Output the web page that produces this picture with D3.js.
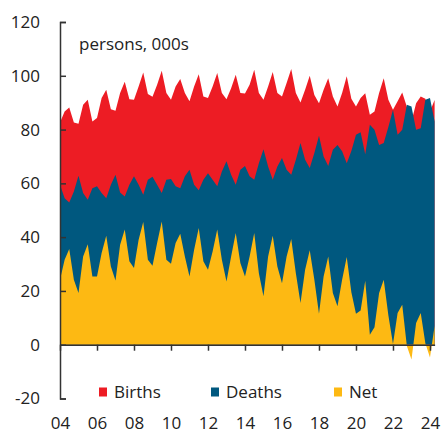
<!DOCTYPE html>
<html>
<head>
<meta charset="utf-8">
<script src="https://cdn.jsdelivr.net/npm/d3@7"></script>
<style>
  html, body { margin: 0; padding: 0; background: #fff; }
  svg { display: block; }
  text { font-family: "Open Sans", "Noto Sans", sans-serif; fill: #222; }
</style>
</head>
<body>
<svg id="chart" width="441" height="439"></svg>
<script>
// Quarterly, 2004Q1 .. 2024Q2 (thousands of persons)
const startYear = 2004;
const births = [
  82.6, 86.7, 88.2, 82.6, 82.2, 89.2, 91.1, 83.0, 84.3, 91.7,
  94.8, 87.6, 87.0, 93.6, 97.8, 91.3, 91.1, 96.0, 101.2, 93.2,
  92.2, 96.7, 101.9, 93.6, 91.1, 96.0, 98.8, 93.6, 90.5, 96.0,
  100.6, 92.3, 91.7, 96.0, 101.0, 93.6, 91.3, 95.4, 100.4, 93.6,
  93.4, 96.7, 102.2, 93.6, 91.1, 96.0, 101.4, 93.6, 92.3, 97.3,
  102.5, 93.6, 90.1, 94.8, 100.0, 92.9, 89.8, 94.8, 99.1, 92.3,
  88.6, 93.6, 99.8, 91.5, 88.6, 91.7, 93.5, 85.5, 86.7, 93.6,
  99.1, 91.1, 87.4, 90.5, 93.8, 88.5, 83.0, 89.8, 92.3, 91.5,
  86.7, 91.0
];
const deaths = [
  59.5, 54.5, 52.9, 57.0, 62.8, 56.4, 53.9, 58.2, 58.9, 56.4,
  54.5, 59.5, 63.2, 56.6, 55.1, 59.5, 62.6, 59.5, 55.8, 61.3,
  62.5, 59.5, 56.4, 61.3, 61.6, 58.9, 58.2, 62.6, 65.1, 59.5,
  57.4, 61.3, 63.8, 61.3, 58.9, 64.4, 68.2, 63.2, 59.5, 65.1,
  66.5, 62.6, 61.3, 67.5, 72.7, 66.3, 61.3, 66.3, 69.4, 65.1,
  63.2, 68.8, 75.0, 68.8, 65.7, 71.3, 77.7, 70.0, 66.5, 72.5,
  74.3, 71.9, 67.5, 72.0, 78.1, 79.0, 70.8, 81.8, 79.9, 74.3,
  75.0, 81.0, 87.4, 78.1, 79.9, 89.2, 88.6, 79.9, 80.5, 91.1,
  91.7, 83.0
];
const net = [
  24.2, 31.6, 35.6, 24.2, 19.2, 32.8, 37.4, 25.4, 25.4, 34.1,
  40.5, 29.1, 23.9, 37.2, 42.8, 31.0, 28.5, 39.0, 45.6, 31.6,
  29.4, 37.8, 45.8, 31.6, 30.1, 37.8, 41.3, 32.8, 25.4, 35.3,
  43.4, 31.0, 27.9, 34.7, 42.8, 31.6, 23.5, 32.8, 41.5, 30.4,
  25.4, 32.8, 41.5, 26.6, 18.0, 32.8, 40.5, 29.1, 22.9, 32.8,
  39.3, 26.6, 15.5, 27.9, 35.1, 24.2, 11.5, 25.4, 32.8, 19.2,
  14.3, 24.2, 32.6, 19.5, 11.5, 12.7, 23.8, 3.7, 6.5, 19.2,
  24.2, 11.0, 0.3, 11.8, 14.9, -0.5, -5.5, 8.1, 11.8, 0.5,
  -4.8, 7.0
];
const xTicks = [2004, 2006, 2008, 2010, 2012, 2014, 2016, 2018, 2020, 2022, 2024];
const yTicks = [-20, 0, 20, 40, 60, 80, 100, 120];
const seriesNames = ["Births", "Deaths", "Net"];
const seriesColors = ["#ED1C24", "#00587F", "#FDB913"];
const unitLabel = "persons, 000s";

const svg = d3.select("#chart");
const x = d3.scaleLinear().domain([2004, 2024.25]).range([60, 434.6]);
const y = d3.scaleLinear().domain([-20, 120]).range([398.5, 22]);

const series = [births, deaths, net];
series.forEach((vals, si) => {
  const pts = vals.map((v, i) => ({ t: startYear + i / 4, v }));
  const area = d3.area()
    .x(d => x(d.t))
    .y0(y(0))
    .y1(d => y(d.v))
    .curve(d3.curveLinear);
  svg.append("path")
    .datum(pts)
    .attr("d", area)
    .attr("fill", seriesColors[si]);
});

// Y axis (inward ticks, labels left)
const yAxis = svg.append("g")
  .attr("transform", "translate(60,0)")
  .call(d3.axisLeft(y).tickValues(yTicks).tickSize(-6).tickPadding(20).tickFormat(d => String(d)));
yAxis.selectAll("path, line").attr("stroke", "#333").attr("stroke-width", 1.5);
yAxis.selectAll("text").style("font-size", "17px").attr("fill", "#222")
  .style("font-family", "'Open Sans', 'Noto Sans', sans-serif");

// X axis along zero
const xAxis = svg.append("g")
  .attr("transform", `translate(0,${y(0)})`)
  .call(d3.axisBottom(x).tickValues(xTicks).tickSize(6).tickSizeOuter(0).tickPadding(66)
    .tickFormat(d => String(d).slice(2)));
xAxis.selectAll("path, line").attr("stroke", "#333").attr("stroke-width", 1.5);
xAxis.selectAll("text").style("font-size", "17px").attr("fill", "#222")
  .style("font-family", "'Open Sans', 'Noto Sans', sans-serif");

// Unit label
svg.append("text")
  .attr("x", 79).attr("y", 50)
  .style("font-size", "17px")
  .text(unitLabel);

// Legend
const legendX = [99, 211, 334];
seriesNames.forEach((name, i) => {
  svg.append("rect")
    .attr("x", legendX[i]).attr("y", 387.5)
    .attr("width", 8).attr("height", 9)
    .attr("fill", seriesColors[i]);
  svg.append("text")
    .attr("x", legendX[i] + 15).attr("y", 398)
    .style("font-size", "17px")
    .text(name);
});
</script>
</body>
</html>
